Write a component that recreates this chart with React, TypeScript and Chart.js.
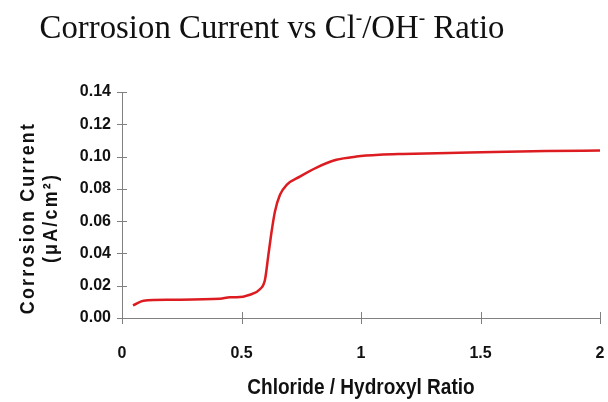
import React, { useEffect, useRef } from "react";
import { Chart, registerables } from "chart.js";

Chart.register(...registerables);

const ratioX: number[] = [0.046, 0.09, 0.202, 0.41, 0.452, 0.48, 0.535, 0.577, 0.598, 0.612, 0.626, 0.64, 0.661, 0.689, 0.744, 0.814, 0.897, 0.981, 1.078, 1.175, 1.454, 1.774, 2.0];
const currentY: number[] = [0.0078, 0.0107, 0.0113, 0.0119, 0.0128, 0.0128, 0.0144, 0.0178, 0.0235, 0.0385, 0.0536, 0.066, 0.0763, 0.0825, 0.0876, 0.0932, 0.098, 0.1, 0.1011, 0.1016, 0.1025, 0.1035, 0.1037];
const yTicks: number[] = [0, 0.02, 0.04, 0.06, 0.08, 0.1, 0.12, 0.14];
const xTicks: number[] = [0, 0.5, 1, 1.5, 2];
const titleParts: { text: string; sup: boolean }[] = [
  { text: "Corrosion Current vs Cl", sup: false },
  { text: "-", sup: true },
  { text: "/OH", sup: false },
  { text: "-", sup: true },
  { text: " Ratio", sup: false },
];
const yTitleLines: string[] = ["Corrosion Current", "(\u03bcA/cm\u00b2)"];
const xTitle = "Chloride / Hydroxyl Ratio";

const SANS = '"Liberation Sans", Arial, sans-serif';
const SERIF = '"Liberation Serif", "Times New Roman", serif';

const decor = {
  id: "decor",
  afterDraw(chart: any) {
    const ctx = chart.ctx as CanvasRenderingContext2D;
    const xs = chart.scales.x;
    const ys = chart.scales.y;
    const area = chart.chartArea;
    ctx.save();
    ctx.strokeStyle = "#808080";
    ctx.lineWidth = 1;
    ctx.beginPath();
    for (const v of yTicks) {
      const py = Math.round(ys.getPixelForValue(v)) + 0.5;
      ctx.moveTo(area.left - 5, py);
      ctx.lineTo(area.left + 5, py);
    }
    for (const v of xTicks) {
      const px = Math.round(xs.getPixelForValue(v)) + 0.5;
      ctx.moveTo(px, area.bottom - 6);
      ctx.lineTo(px, area.bottom + 6);
    }
    ctx.stroke();

    // main title
    const big = 34;
    const small = 20;
    const sx = 0.965;
    ctx.fillStyle = "#111";
    ctx.textBaseline = "alphabetic";
    ctx.textAlign = "left";
    let total = 0;
    for (const p of titleParts) {
      ctx.font = `${p.sup ? small : big}px ${SERIF}`;
      total += ctx.measureText(p.text).width;
    }
    ctx.save();
    ctx.translate(272 - (total * sx) / 2, 0);
    ctx.scale(sx, 1);
    let x = 0;
    const base = 38;
    for (const p of titleParts) {
      ctx.font = `${p.sup ? small : big}px ${SERIF}`;
      ctx.fillText(p.text, x, p.sup ? base - 14 : base);
      x += ctx.measureText(p.text).width;
    }
    ctx.restore();

    // y title (condensed look)
    ctx.font = `bold 21px ${SANS}`;
    (ctx as any).letterSpacing = "2.6px";
    ctx.textAlign = "center";
    ctx.textBaseline = "middle";
    const cy = 218;
    const lineX = [28, 51];
    yTitleLines.forEach((t, i) => {
      ctx.save();
      ctx.translate(lineX[i], cy);
      ctx.rotate(-Math.PI / 2);
      ctx.scale(0.85, 1);
      ctx.fillText(t, 0, 0);
      ctx.restore();
    });

    // x title (condensed look)
    (ctx as any).letterSpacing = "0px";
    ctx.font = `bold 22px ${SANS}`;
    ctx.save();
    ctx.translate((area.left + area.right) / 2, 388);
    ctx.scale(0.865, 1);
    ctx.fillText(xTitle, 0, 0);
    ctx.restore();
    ctx.restore();
  },
};

export default function App() {
  const ref = useRef<HTMLCanvasElement | null>(null);
  useEffect(() => {
    if (!ref.current) return;
    const chart = new Chart(ref.current, {
      type: "line",
      data: {
        datasets: [
          {
            data: ratioX.map((x, i) => ({ x, y: currentY[i] })),
            borderColor: "#dc1c20",
            borderWidth: 2.5,
            pointRadius: 0,
            cubicInterpolationMode: "monotone",
            fill: false,
          },
        ],
      },
      options: {
        animation: false,
        responsive: false,
        devicePixelRatio: 1,
        layout: { padding: { top: 92, right: 8, left: 0, bottom: 0 } },
        plugins: { legend: { display: false }, tooltip: { enabled: false }, title: { display: false } },
        scales: {
          x: {
            type: "linear",
            min: 0,
            max: 2,
            afterFit: (s: any) => {
              s.height = 84;
              s.paddingLeft = 0;
              s.paddingRight = 0;
            },
            afterBuildTicks: (s: any) => {
              s.ticks = xTicks.map((v) => ({ value: v }));
            },
            ticks: {
              color: "#111",
              font: { family: SANS, size: 16, weight: "bold" },
              padding: 26,
              maxRotation: 0,
              callback: (v: any) => String(Number(v)),
            },
            grid: { display: false, drawTicks: false },
            border: { display: true, color: "#808080", width: 1 },
          },
          y: {
            min: 0,
            max: 0.14,
            afterFit: (s: any) => {
              s.width = 122;
              s.paddingTop = 0;
              s.paddingBottom = 0;
            },
            afterBuildTicks: (s: any) => {
              s.ticks = yTicks.map((v) => ({ value: v }));
            },
            ticks: {
              color: "#111",
              font: { family: SANS, size: 16, weight: "bold" },
              padding: 11,
              callback: (v: any) => Number(v).toFixed(2),
            },
            grid: { display: false, drawTicks: false },
            border: { display: true, color: "#808080", width: 1 },
          },
        },
      },
      plugins: [decor],
    });
    return () => chart.destroy();
  }, []);
  return (
    <div style={{ position: "absolute", left: 0, top: 0, width: 608, height: 402, background: "#fff" }}>
      <canvas ref={ref} width={608} height={402} />
    </div>
  );
}
